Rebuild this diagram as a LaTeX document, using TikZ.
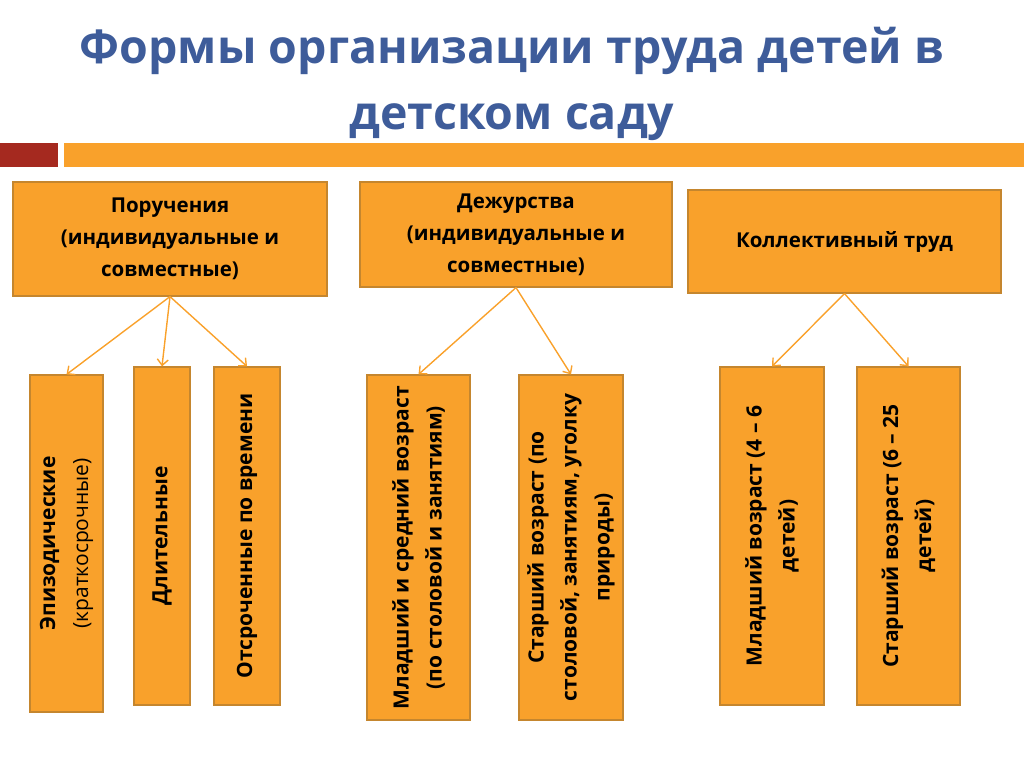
\documentclass[tikz,border=0pt]{standalone}
\usepackage{fontspec}
\setmainfont{Open Sans}
\usetikzlibrary{arrows.meta,positioning}
\definecolor{titlecolor}{HTML}{3E5C9A}
\definecolor{boxfill}{HTML}{F9A12B}
\definecolor{boxline}{HTML}{C5862E}
\definecolor{barred}{HTML}{A5291F}

\begin{document}
\begin{tikzpicture}[x=1pt, y=-1pt, every node/.style={font=\fontsize{20}{32}\selectfont}]
  \useasboundingbox (0,0) rectangle (1024,767);
  \tikzset{
    topbox/.style={draw=boxline, fill=boxfill, line width=1.2pt, inner sep=0pt, align=center, font=\fontsize{20.5}{32}\selectfont\bfseries},
    subbox/.style={topbox, rotate=90, font=\fontsize{21}{33}\selectfont\bfseries},
    arr/.style={draw=boxfill, line width=1.4pt, -{Straight Barb[length=6pt,width=11pt]}}
  }
  % Title
  \node[font=\fontsize{46.5}{66}\selectfont\bfseries, text=titlecolor, align=center] (title) at (512,84)
    {Формы организации труда детей в\\детском саду};
  % Bar
  \fill[barred] (0,143) rectangle (58,167);
  \fill[boxfill] (64,143) rectangle (1024,167);
  % Top boxes
  \node[topbox, minimum width=314, minimum height=114] (poruch) at (170,239)
    {Поручения\\(индивидуальные и\\совместные)};
  \node[topbox, minimum width=312, minimum height=105] (dezhur) at (516,234.5)
    {Дежурства\\(индивидуальные и\\совместные)};
  \node[topbox, minimum width=313, minimum height=103] (kollekt) at (844.5,241.5)
    {Коллективный труд};
  % Sub boxes (rotated, so .east is the top edge)
  \node[subbox, minimum width=337, minimum height=73] (epizod) at (66.5,543.5)
    {Эпизодические\\\mdseries(краткосрочные)};
  \node[subbox, minimum width=338, minimum height=56] (dlit) at (162,536)
    {Длительные};
  \node[subbox, minimum width=338, minimum height=66] (otsroch) at (247,536)
    {Отсроченные по времени};
  \node[subbox, minimum width=345, minimum height=103] (mladsr) at (418.5,547.5)
    {Младший и средний возраст\\(по столовой и занятиям)};
  \node[subbox, minimum width=345, minimum height=104] (starsh) at (571,547.5)
    {Старший возраст (по\\столовой, занятиям, уголку\\природы)};
  \node[subbox, minimum width=338, minimum height=104] (mladv) at (772,536)
    {Младший возраст (4 – 6\\детей)};
  \node[subbox, minimum width=338, minimum height=103] (starv) at (908.5,536)
    {Старший возраст (6 – 25\\детей)};
  % Arrows
  \draw[arr] (poruch.south) -- (epizod.east);
  \draw[arr] (poruch.south) -- (dlit.east);
  \draw[arr] (poruch.south) -- (otsroch.east);
  \draw[arr] (dezhur.south) -- (mladsr.east);
  \draw[arr] (dezhur.south) -- (starsh.east);
  \draw[arr] (kollekt.south) -- (mladv.east);
  \draw[arr] (kollekt.south) -- (starv.east);
\end{tikzpicture}
\end{document}
